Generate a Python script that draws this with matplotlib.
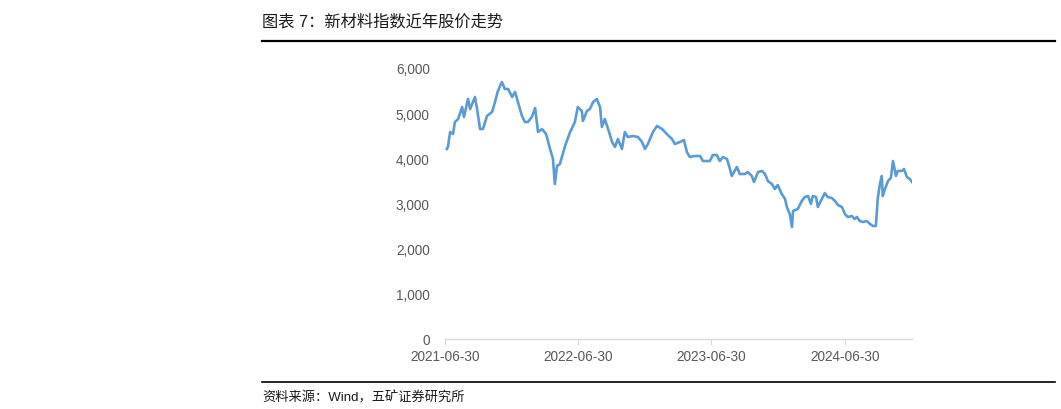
import matplotlib
matplotlib.use("Agg")
import matplotlib.pyplot as plt
import matplotlib.dates as mdates
from matplotlib.lines import Line2D
from matplotlib.ticker import FuncFormatter, MultipleLocator
import pandas as pd

plt.rcParams['font.family'] = ['Liberation Sans', 'Noto Sans CJK SC', 'DejaVu Sans']

start_date = "2021-06-30"
end_date = "2024-12-31"

# days after start_date
days = [5, 8, 14, 22, 27, 36, 47, 52, 63, 69, 82, 88, 96, 104, 115, 129, 137, 145,
        156, 164, 173, 184, 192, 200, 211, 219, 227, 238, 247, 255, 266, 277, 288,
        296, 301, 307, 315, 329, 343, 356, 364, 375, 378, 389, 397, 406, 416, 425,
        430, 438, 447, 458, 466, 474, 485, 493, 501, 515, 529, 540, 548, 556, 570,
        581, 595, 608, 622, 630, 644, 655, 663, 671, 685, 699, 707, 718, 726, 734,
        745, 753, 762, 773, 781, 786, 800, 808, 822, 830, 841, 847, 858, 869, 877,
        885, 896, 904, 912, 923, 932, 937, 945, 951, 954, 967, 978, 986, 995, 1003,
        1008, 1017, 1022, 1033, 1041, 1049, 1060, 1069, 1077, 1088, 1096, 1104,
        1115, 1123, 1129, 1137, 1145, 1156, 1165, 1173, 1181, 1186, 1192, 1197,
        1200, 1206, 1214, 1222, 1228, 1236, 1241, 1252, 1258, 1266, 1274, 1280]

index_values = [4207, 4251, 4583, 4539, 4804, 4871, 5136, 4915, 5314, 5092, 5358, 5092,
                4649, 4649, 4937, 5026, 5247, 5491, 5690, 5535, 5535, 5358, 5469, 5247,
                4937, 4804, 4804, 4915, 5114, 4583, 4649, 4539, 4207, 3985, 3432, 3830,
                3875, 4273, 4583, 4804, 5136, 5048, 4827, 5048, 5092, 5247, 5314, 5136,
                4694, 4871, 4649, 4362, 4251, 4428, 4207, 4583, 4472, 4494, 4472, 4362,
                4207, 4317, 4583, 4716, 4649, 4539, 4428, 4317, 4362, 4406, 4140, 4029,
                4052, 4052, 3941, 3941, 3941, 4074, 4074, 3941, 4029, 3985, 3764, 3609,
                3808, 3653, 3653, 3697, 3609, 3476, 3697, 3720, 3653, 3498, 3432, 3321,
                3410, 3210, 3100, 2922, 2767, 2480, 2834, 2878, 3055, 3144, 3166, 2989,
                3166, 3144, 2922, 3100, 3232, 3144, 3122, 3055, 2967, 2922, 2767, 2701,
                2723, 2657, 2701, 2612, 2590, 2612, 2546, 2502, 2502, 3100, 3432, 3609,
                3166, 3321, 3498, 3565, 3941, 3609, 3720, 3720, 3764, 3587, 3542, 3476]

x_ticks = ["2021-06-30", "2022-06-30", "2023-06-30", "2024-06-30"]

dates = pd.Timestamp(start_date) + pd.to_timedelta(days, unit="D")

fig = plt.figure(figsize=(10.61, 4.10), dpi=100)
ax = fig.add_axes([445 / 1061, 1 - 340 / 410, (912 - 445) / 1061, (340 - 69) / 410])

ax.plot(dates, index_values, color="#5B9BD5", linewidth=1.9, solid_joinstyle="round")

ax.set_ylim(0, 6000)
ax.set_xlim(pd.Timestamp(start_date), pd.Timestamp(end_date))
ax.yaxis.set_major_locator(MultipleLocator(1000))
ax.yaxis.set_major_formatter(FuncFormatter(lambda v, p: f"{int(v):,}"))
ax.set_xticks([pd.Timestamp(t) for t in x_ticks])
ax.xaxis.set_major_formatter(mdates.DateFormatter("%Y-%m-%d"))

for s in ["top", "right", "left"]:
    ax.spines[s].set_visible(False)
ax.spines["bottom"].set_color("#d9d9d9")
ax.spines["bottom"].set_linewidth(1.0)
ax.tick_params(axis="y", length=0, pad=11, labelsize=9.8, labelcolor="#595959")
ax.tick_params(axis="x", length=4, color="#d9d9d9", pad=3, labelsize=9.8,
               labelcolor="#595959")

# title, rules and source
fig.text(262 / 1061, 1 - 22 / 410, "图表 7：新材料指数近年股价走势", fontsize=11.7,
         color="#1a1a1a", va="center", ha="left")
fig.add_artist(Line2D([262 / 1061, 1055 / 1061], [1 - 42 / 410, 1 - 42 / 410],
                      color="black", linewidth=1.6))
fig.add_artist(Line2D([262 / 1061, 1055 / 1061], [1 - 383 / 410, 1 - 383 / 410],
                      color="black", linewidth=1.2))
fig.text(262 / 1061, 1 - 398 / 410, "资料来源：Wind，五矿证券研究所", fontsize=9.5,
         color="#1a1a1a", va="center", ha="left")

fig.savefig("out.png", dpi=100)
